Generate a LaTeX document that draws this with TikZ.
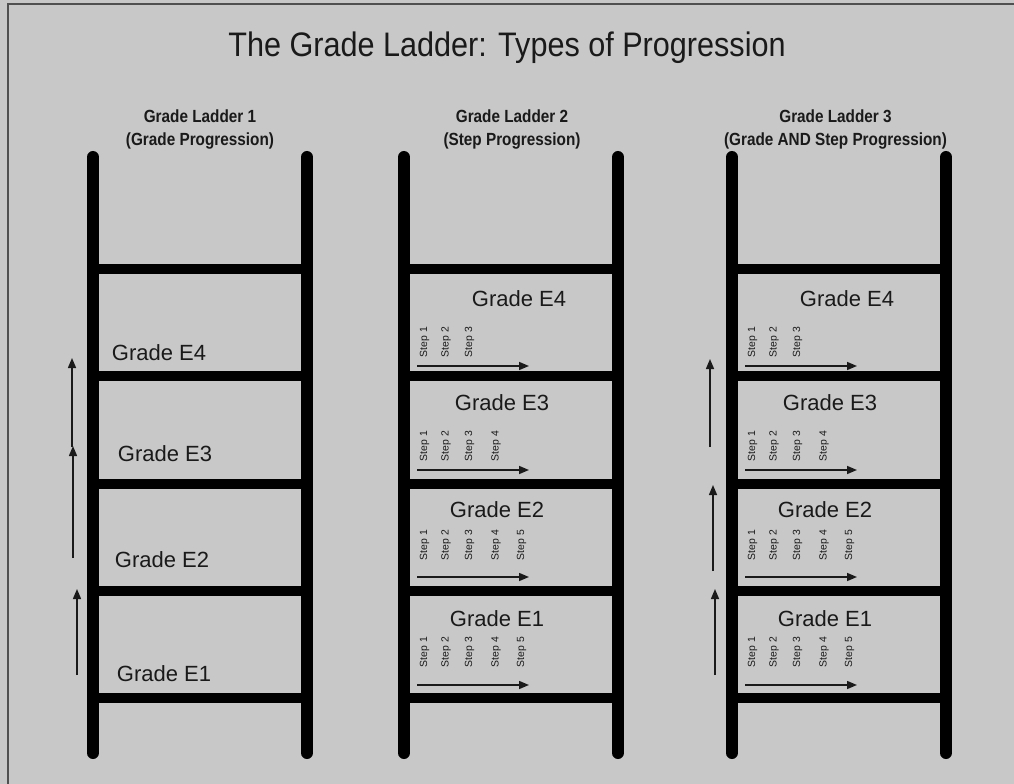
\documentclass[tikz,border=0pt]{standalone}
\usepackage{fontspec}
\setmainfont{Liberation Sans}
\newfontfamily\narrowfont[FakeStretch=0.87]{Liberation Sans}
\newfontfamily\titlefont[FakeStretch=0.9]{Liberation Sans}
\usetikzlibrary{arrows.meta}
\definecolor{bg}{HTML}{C8C8C8}
\definecolor{frame}{HTML}{505050}
\definecolor{txt}{HTML}{1A1A1A}
\tikzset{
  rail/.style={line width=9pt, line cap=round},
  rung/.style={line width=7.5pt},
  gradelbl/.style={anchor=base, inner sep=0pt, text=txt, font=\fontsize{16.5}{18}\selectfont},
  steplbl/.style={rotate=90, inner sep=0pt, text=txt, font=\fontsize{7.8}{8}\selectfont},
  sub/.style={anchor=base, inner sep=0pt, text=txt, font=\narrowfont\bfseries\fontsize{13.2}{15}\selectfont},
  prog/.style={line width=1.1pt, draw=txt, -{Triangle[length=7.5pt,width=6pt]}},
}
\begin{document}
\begin{tikzpicture}[x=0.75pt,y=-0.75pt]
\useasboundingbox (0,0) rectangle (1014,784);
\fill[bg] (0,0) rectangle (1014,784);
\draw[line width=1.5pt, frame] (8,784) -- (8,4) -- (1014,4);
% title
\node[anchor=base, inner sep=0pt, text=txt, font=\titlefont\fontsize{25.5}{30}\selectfont] (title) at (507,57) {The Grade Ladder: Types of Progression};
% subtitles
\node[sub] (s1a) at (200,123) {Grade Ladder 1};
\node[sub] (s1b) at (200,146) {(Grade Progression)};
\node[sub] (s2a) at (512,123) {Grade Ladder 2};
\node[sub] (s2b) at (512,146) {(Step Progression)};
\node[sub] (s3a) at (835.5,123) {Grade Ladder 3};
\node[sub] (s3b) at (835.5,146) {(Grade AND Step Progression)};
% ladders
\foreach \lx in {93,404,732}{
  \foreach \ry in {269,376,484,591,698}{
    \draw[rung] (\lx,\ry) -- ({\lx+214},\ry);
  }
  \draw[rail] (\lx,157) -- (\lx,753);
  \draw[rail] ({\lx+214},157) -- ({\lx+214},753);
}
% ladder 1 labels
\node[gradelbl] (l1e4) at (159,360) {Grade E4};
\node[gradelbl] (l1e3) at (165,461) {Grade E3};
\node[gradelbl] (l1e2) at (162,567) {Grade E2};
\node[gradelbl] (l1e1) at (164,681) {Grade E1};
% ladder 1 arrows
\coordinate (a1s) at (72,447); \coordinate (a1e) at (72,358);
\coordinate (a2s) at (73,558); \coordinate (a2e) at (73,446);
\coordinate (a3s) at (77,675); \coordinate (a3e) at (77,589);
\draw[prog] (a1s) -- (a1e);
\draw[prog] (a2s) -- (a2e);
\draw[prog] (a3s) -- (a3e);
% ladder 3 arrows
\coordinate (b1s) at (710,447); \coordinate (b1e) at (710,359);
\coordinate (b2s) at (713,571); \coordinate (b2e) at (713,485);
\coordinate (b3s) at (715,675); \coordinate (b3e) at (715,589);
\draw[prog] (b1s) -- (b1e);
\draw[prog] (b2s) -- (b2e);
\draw[prog] (b3s) -- (b3e);
% ladders 2 and 3 contents
\foreach \off/\id in {0/p,328/q}{
  \node[gradelbl] (\id e4) at ({519+\off},306) {Grade E4};
  \node[gradelbl] (\id e3) at ({502+\off},410) {Grade E3};
  \node[gradelbl] (\id e2) at ({497+\off},517) {Grade E2};
  \node[gradelbl] (\id e1) at ({497+\off},626) {Grade E1};
  % steps
  \foreach \g/\sy/\ay/\n in {4/342/366/3, 3/446/470/4, 2/545/577/5, 1/652/685/5}{
    \foreach \k/\dx in {1/20.5,2/42,3/65.5,4/92,5/117.5}{
      \ifnum\k>\n\else
        \node[steplbl] (\id g\g s\k) at ({404+\off+\dx},\sy) {Step \k};
      \fi
    }
    \coordinate (\id g\g as) at ({417+\off},\ay);
    \coordinate (\id g\g ae) at ({529+\off},\ay);
    \draw[prog] (\id g\g as) -- (\id g\g ae);
  }
}
\end{tikzpicture}
\end{document}
